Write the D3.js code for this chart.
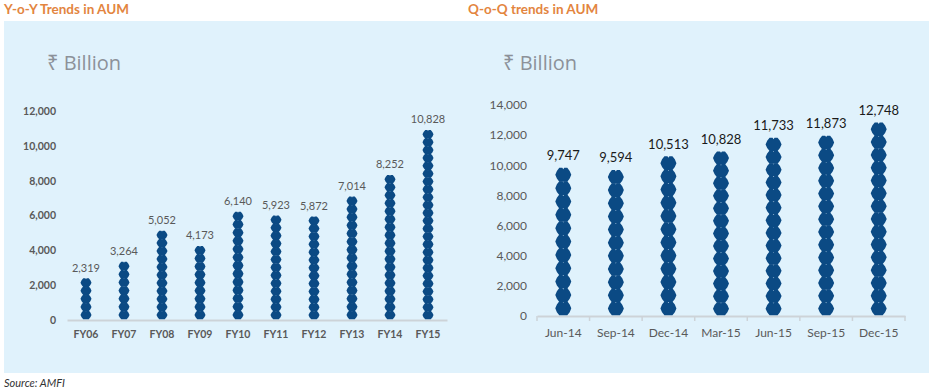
<!DOCTYPE html>
<html>
<head>
<meta charset="utf-8">
<script src="https://cdn.jsdelivr.net/npm/d3@7"></script>
<style>
  body { margin: 0; background: #fff; }
  svg { display: block; font-family: Lato, "Open Sans", sans-serif; }
</style>
</head>
<body>
<div id="chart-area"></div>
<script>
// Y-o-Y data
var yoyYears = ["FY06","FY07","FY08","FY09","FY10","FY11","FY12","FY13","FY14","FY15"];
var yoyAum = [2319, 3264, 5052, 4173, 6140, 5923, 5872, 7014, 8252, 10828];
var yoyTicks = [0, 2000, 4000, 6000, 8000, 10000, 12000];

// Q-o-Q data
var qoqQuarters = ["Jun-14","Sep-14","Dec-14","Mar-15","Jun-15","Sep-15","Dec-15"];
var qoqAum = [9747, 9594, 10513, 10828, 11733, 11873, 12748];
var qoqTicks = [0, 2000, 4000, 6000, 8000, 10000, 12000, 14000];

var W = 934, H = 392;
var fmt = d3.format(",");
var dotColor = "#0B4A84";

var svg = d3.select("#chart-area")
    .append("svg")
        .attr("width", W)
        .attr("height", H);

// background panel
svg.append("rect")
    .attr("x", 4).attr("y", 21)
    .attr("width", 925).attr("height", 352)
    .attr("fill", "#E0F2FC");

// titles
svg.append("text")
    .attr("x", 4).attr("y", 14)
    .attr("font-size", "13.5px").attr("font-weight", "bold")
    .attr("fill", "#E3853F")
    .text("Y-o-Y Trends in AUM");
svg.append("text")
    .attr("x", 468).attr("y", 14)
    .attr("font-size", "13.5px").attr("font-weight", "bold")
    .attr("fill", "#E3853F")
    .text("Q-o-Q trends in AUM");

// source
svg.append("text")
    .attr("x", 4).attr("y", 387)
    .attr("font-size", "11px").attr("font-style", "italic")
    .attr("fill", "#333")
    .text("Source: AMFI");

// one dot = rounded octagon-ish blob
function dotPath(w, h) {
    var a = w / 2, b = h / 2;
    return "M" + (-a * 0.5) + "," + (-b) +
        "L" + (-a * 0.12) + "," + (-b) + "L0," + (-b * 0.8) + "L" + (a * 0.12) + "," + (-b) +
        "L" + (a * 0.5) + "," + (-b) +
        "L" + (a * 0.8) + "," + (-b * 0.55) +
        "L" + a + ",0" +
        "L" + (a * 0.8) + "," + (b * 0.55) +
        "L" + (a * 0.5) + "," + b +
        "L" + (-a * 0.5) + "," + b +
        "L" + (-a * 0.8) + "," + (b * 0.55) +
        "L" + (-a) + ",0" +
        "L" + (-a * 0.8) + "," + (-b * 0.55) + "Z";
}

function drawChart(opt) {
    var g = svg.append("g");

    var x = d3.scaleBand()
        .domain(opt.cats)
        .range([opt.x0, opt.x1]);

    var y = d3.scaleLinear()
        .domain([0, opt.max])
        .range([opt.y0, opt.y1]);

    // unit label
    g.append("text")
        .attr("x", opt.unitX).attr("y", 70)
        .attr("font-family", "'Open Sans', 'Noto Sans', sans-serif")
        .attr("font-size", "20px")
        .attr("fill", "#8C9199")
        .text("\u20B9 Billion");

    // y axis labels
    var yAxis = d3.axisLeft(y)
        .tickValues(opt.ticks)
        .tickFormat(fmt)
        .tickSize(0)
        .tickPadding(0);
    var ya = g.append("g")
        .attr("transform", "translate(" + opt.yLabelX + ",0)")
        .call(yAxis);
    ya.select(".domain").remove();
    ya.selectAll("text")
        .attr("font-family", "Lato, sans-serif")
        .attr("font-size", opt.yFont)
        .attr("font-weight", opt.bold ? "bold" : "normal")
        .attr("fill", "#595959");

    // x axis
    var xAxis = d3.axisBottom(x)
        .tickSize(0)
        .tickPadding(opt.xPad);
    var xa = g.append("g")
        .attr("transform", "translate(0," + opt.y0 + ")")
        .call(xAxis);
    xa.select(".domain")
        .attr("stroke", "#CDD3D8").attr("stroke-width", 2);
    xa.selectAll("text")
        .attr("font-family", "Lato, sans-serif")
        .attr("font-size", opt.xFont)
        .attr("font-weight", opt.bold ? "bold" : "normal")
        .attr("fill", "#595959");

    if (opt.tickMarks) {
        var edges = opt.cats.map(function(c) { return x(c); }).concat([x.range()[1]]);
        g.selectAll(".xtick")
            .data(edges)
            .enter().append("line")
            .attr("x1", function(d) { return d; })
            .attr("x2", function(d) { return d; })
            .attr("y1", opt.y0)
            .attr("y2", opt.y0 + 5)
            .attr("stroke", "#CDD3D8").attr("stroke-width", 1.5);
    }

    // stacked dot bars
    opt.cats.forEach(function(c, i) {
        var v = opt.vals[i];
        var h = y(0) - y(v);
        var n = Math.max(1, Math.round(h / opt.step));
        var s = h / n;
        var cx = x(c) + x.bandwidth() / 2;
        var dots = d3.range(n);
        g.selectAll(".d" + i)
            .data(dots)
            .enter().append("path")
            .attr("d", dotPath(opt.dotW, s + 0.6))
            .attr("transform", function(k) {
                return "translate(" + cx + "," + (y(0) - 1 - s * (k + 0.5)) + ")";
            })
            .attr("fill", dotColor);

        g.append("text")
            .attr("x", cx)
            .attr("y", y(v) - opt.labelGap)
            .attr("text-anchor", "middle")
            .attr("font-family", "Lato, sans-serif")
            .attr("font-size", opt.labelFont)
            .attr("fill", opt.labelColor)
            .text(fmt(v));
    });
}

drawChart({
    cats: yoyYears, vals: yoyAum, ticks: yoyTicks, max: 12000,
    x0: 67, x1: 447, y0: 320, y1: 111,
    unitX: 47, yLabelX: 56, bold: true,
    yFont: "10.5px", xFont: "10.5px", xPad: 11,
    step: 8, dotW: 11, labelGap: 8, labelFont: "11px", labelColor: "#595959",
    tickMarks: false
});

drawChart({
    cats: qoqQuarters, vals: qoqAum, ticks: qoqTicks, max: 14000,
    x0: 537, x1: 905, y0: 316, y1: 105,
    unitX: 503, yLabelX: 527, bold: false,
    yFont: "12px", xFont: "12px", xPad: 12,
    step: 12.8, dotW: 16, labelGap: 9, labelFont: "13px", labelColor: "#1a1a1a",
    tickMarks: true
});
</script>
</body>
</html>
